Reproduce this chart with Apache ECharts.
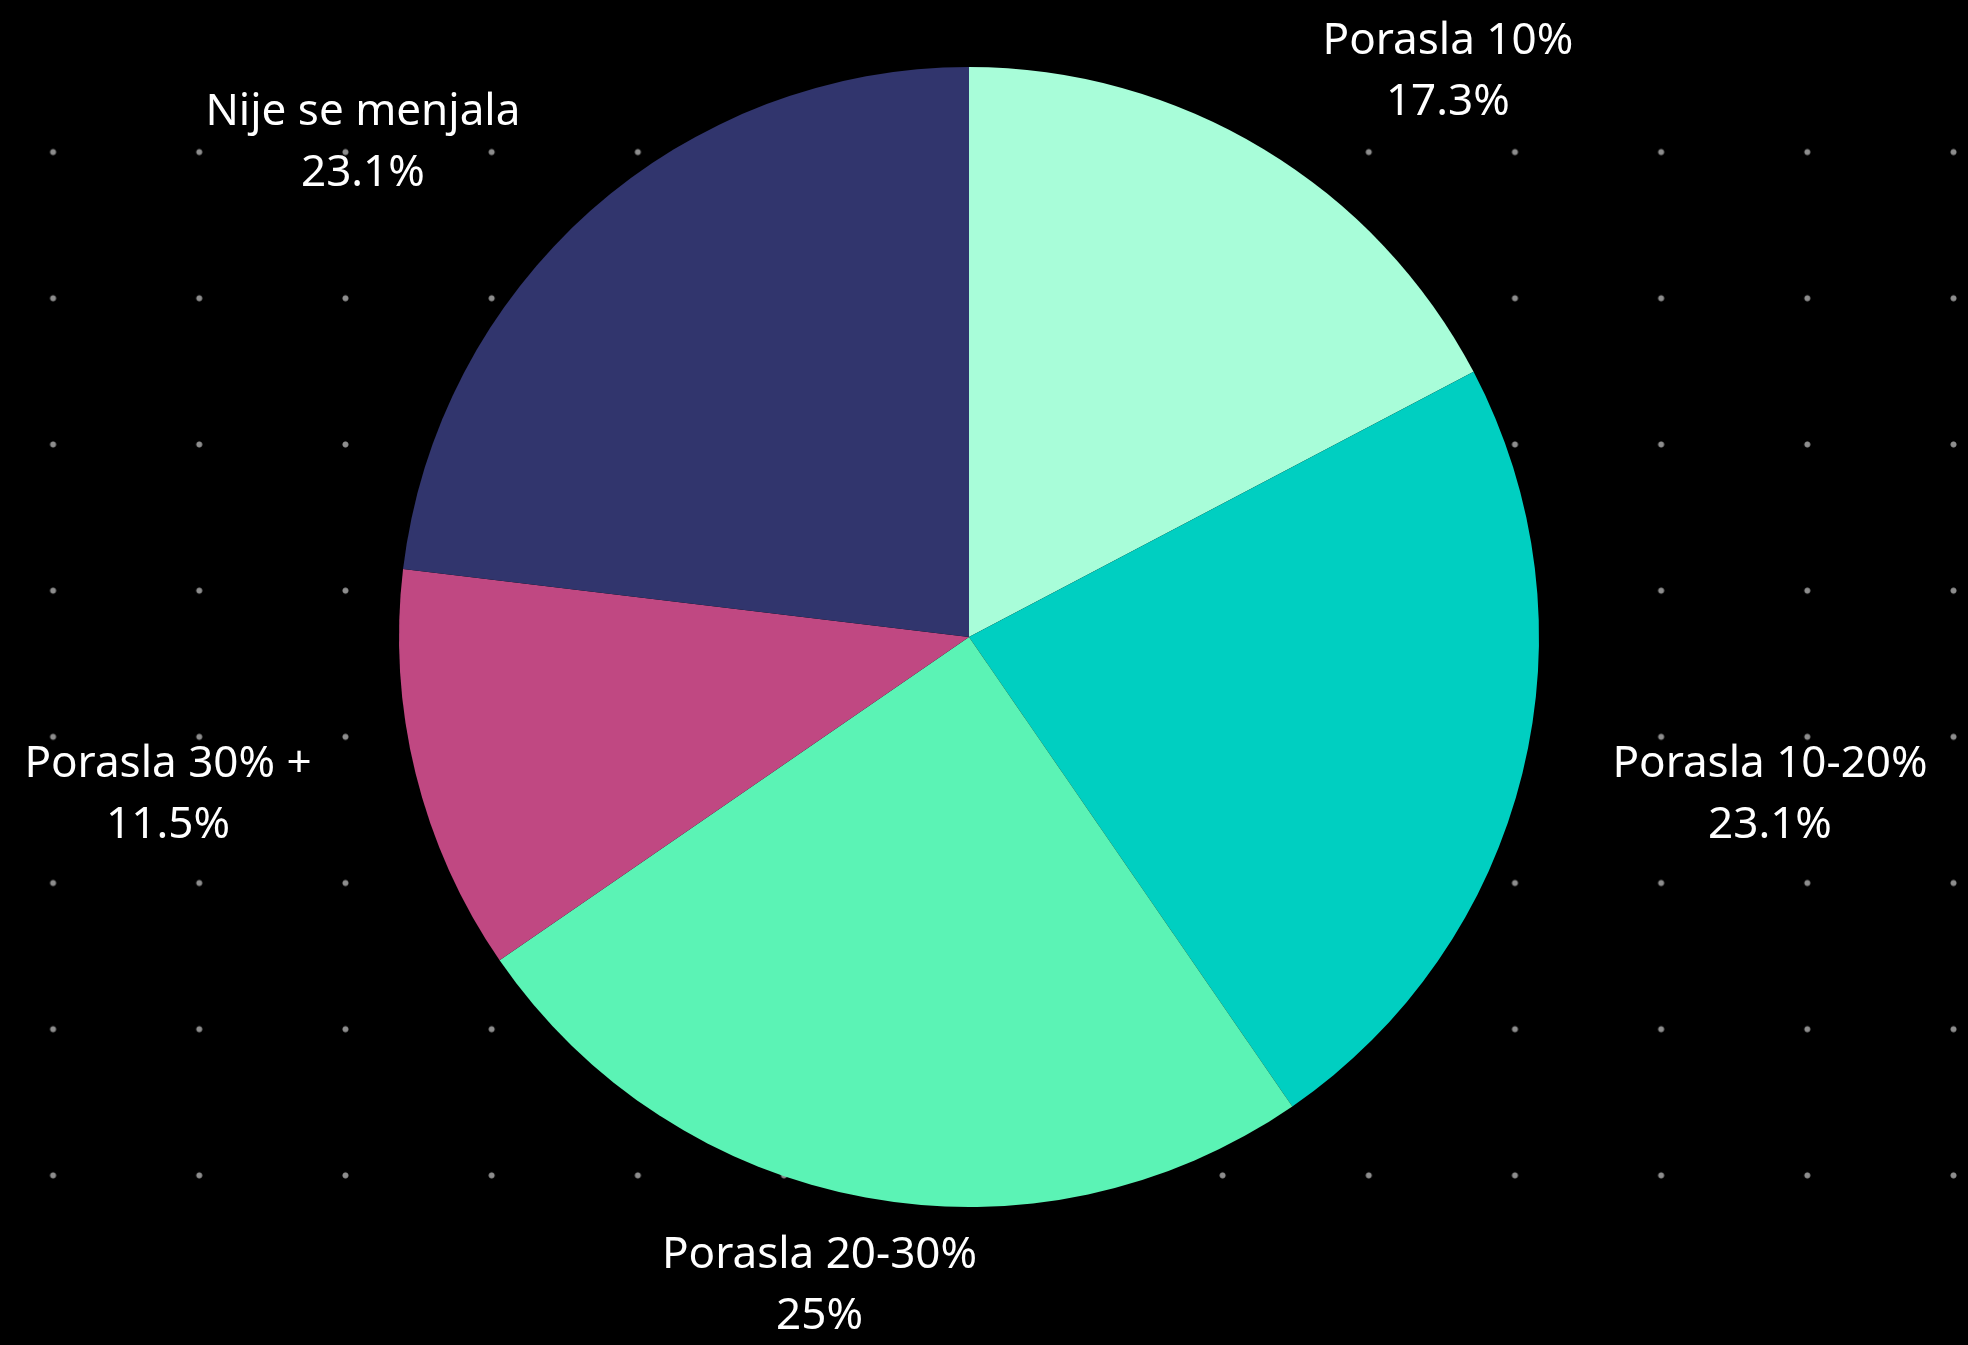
<!DOCTYPE html>
<html>
<head>
<meta charset="utf-8">
<script src="https://cdn.jsdelivr.net/npm/echarts@6/dist/echarts.min.js"></script>
<style>
    html, body { margin: 0; padding: 0; background: #000; overflow: hidden; }
    .wrap {
        position: relative;
        width: 1968px;
        height: 1345px;
        background: #000;
        overflow: hidden;
    }
    /* dotted backdrop, 14 x 8 dots */
    .dots {
        position: absolute;
        left: -20.1px;
        top: 78.9px;
        width: 2046.8px;
        height: 1169.6px;
        background-image: radial-gradient(circle, #8d8d8d 0, #8d8d8d 2.6px, rgba(0,0,0,0) 3.4px);
        background-size: 146.2px 146.2px;
    }
    #chart {
        position: absolute;
        left: 0;
        top: 0;
        width: 1968px;
        height: 1345px;
    }
</style>
</head>
<body>
<div class="wrap">
    <div class="dots"></div>
    <div id="chart"></div>
</div>
<script>
    // udeo odgovora (%)
    const categories = ['Porasla 10%', 'Porasla 10-20%', 'Porasla 20-30%', 'Porasla 30% +', 'Nije se menjala']
    const shares = [17.3, 23.1, 25, 11.5, 23.1]
    const colors = ['#a8fdd9', '#00cfc1', '#5bf3b5', '#c04882', '#31356d']

    const center = [969, 637]
    const radius = 570
    // label ring around the pie
    const labelRx = 825
    const labelSpread = 118   // extra push sideways for the upper labels
    const labelRy = 660

    const total = shares.reduce((a, b) => a + b, 0)

    // mid angle of slice i, clockwise from 12 o'clock
    function midAngle(i) {
        let before = 0
        for (let k = 0; k < i; k++) before += shares[k]
        return (before + shares[i] / 2) / total * Math.PI * 2
    }

    const chart = echarts.init(document.getElementById('chart'), null, { renderer: 'canvas' })

    const option = {
        backgroundColor: 'transparent',
        animation: false,
        series: [{
            type: 'pie',
            center: center,
            radius: radius,
            startAngle: 90,
            clockwise: true,
            avoidLabelOverlap: false,
            data: categories.map((name, i) => ({
                name: name,
                value: shares[i],
                itemStyle: { color: colors[i] }
            })),
            itemStyle: { borderWidth: 0 },
            label: {
                show: true,
                position: 'outside',
                color: '#ffffff',
                fontFamily: 'Noto Sans',
                fontSize: 44,
                lineHeight: 61,
                align: 'center',
                formatter: p => p.name + '\n' + p.value + '%'
            },
            labelLine: { show: false },
            labelLayout: params => {
                const a = midAngle(params.dataIndex)
                const s = Math.sin(a), c = Math.cos(a)
                return {
                    x: center[0] + labelRx * s + labelSpread * s * Math.max(c, 0),
                    y: center[1] - labelRy * c,
                    align: 'center',
                    verticalAlign: 'middle'
                }
            },
            emphasis: { disabled: true }
        }]
    }
    chart.setOption(option)
</script>
</body>
</html>
